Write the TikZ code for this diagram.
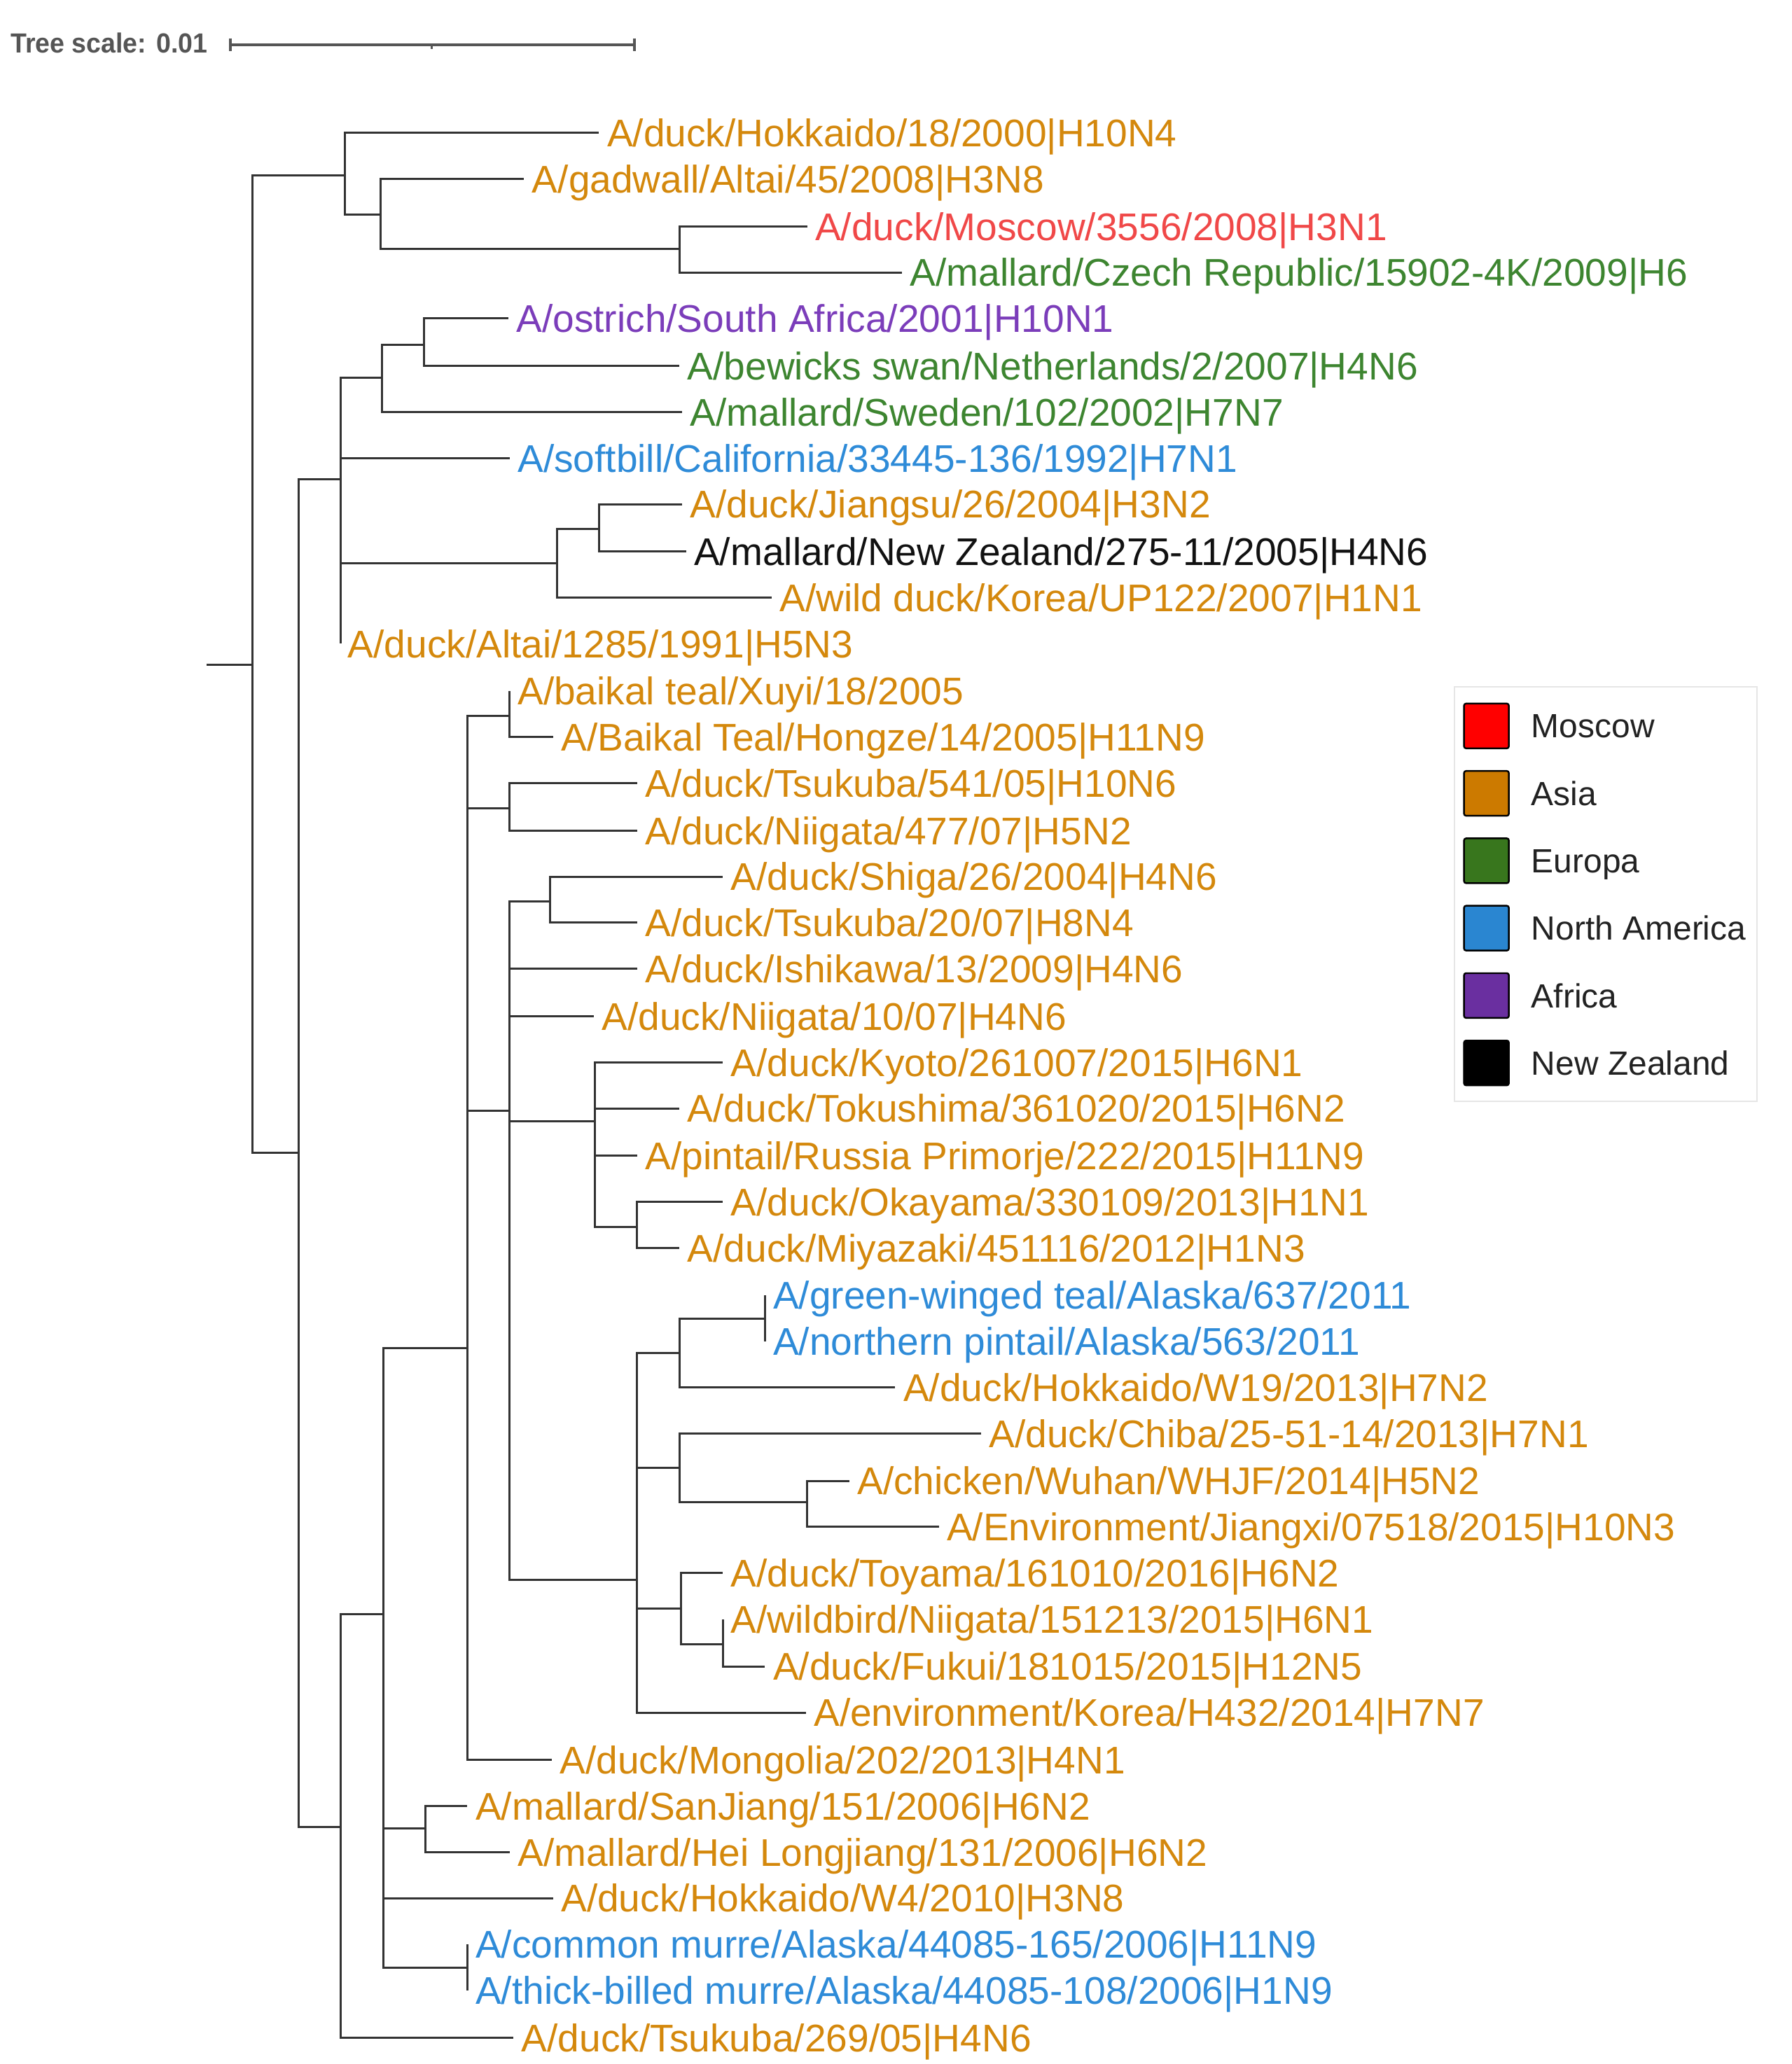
\documentclass[tikz,border=0pt]{standalone}
\usepackage{fontspec}
\setmainfont{Liberation Sans}
\newfontfamily\tsfont{Liberation Sans}[FakeStretch=0.95]
\definecolor{branch}{HTML}{333333}
\definecolor{casia}{HTML}{D4880C}
\definecolor{cmos}{HTML}{F04848}
\definecolor{ceur}{HTML}{3D8530}
\definecolor{cna}{HTML}{2E8BD8}
\definecolor{caf}{HTML}{7B3DBA}
\definecolor{cnz}{HTML}{111111}
\definecolor{swred}{HTML}{FF0000}
\definecolor{swasia}{HTML}{CC7A00}
\definecolor{sweur}{HTML}{38761D}
\definecolor{swna}{HTML}{2A86D1}
\definecolor{swaf}{HTML}{6A2FA0}
\definecolor{scalegray}{HTML}{555555}
\definecolor{legframe}{HTML}{E6E6E6}
\definecolor{legtext}{HTML}{222222}
\begin{document}
\begin{tikzpicture}[x=1pt,y=-1pt,
  br/.style={line width=1.6pt, draw=branch},
  lf/.style={anchor=base west, inner sep=0pt, xshift=6pt, yshift=-10.5pt, font=\fontsize{29.3}{32}\selectfont},
  asia/.style={text=casia}, mos/.style={text=cmos}, eur/.style={text=ceur},
  nam/.style={text=cna}, afr/.style={text=caf}, nz/.style={text=cnz},
  sw/.style={draw=black, line width=1.3pt, minimum width=34pt, minimum height=34pt, inner sep=0pt, rounded corners=1.5pt},
  legtxt/.style={anchor=base west, inner sep=0pt, yshift=-9.1pt, text=legtext, font=\fontsize{25.5}{28}\selectfont},
  scl/.style={line width=2pt, draw=scalegray}]
\useasboundingbox (0,0) rectangle (1361,1568);

% ---- tree scale ----
\node[anchor=base west, inner sep=0pt, text=scalegray, font=\tsfont\bfseries\fontsize{21}{24}\selectfont] (ts) at (8,40) {Tree scale: 0.01};
\coordinate (sb0) at (175,34);
\coordinate (sbm) at (328,34);
\coordinate (sb1) at (482,34);
\draw[scl] (sb0) -- (sb1);
\draw[scl] ([yshift=5pt]sb0) -- ([yshift=-5pt]sb0);
\draw[scl] ([yshift=5pt]sb1) -- ([yshift=-5pt]sb1);
\draw[scl,line width=1.5pt] (sbm) -- ([yshift=-3pt]sbm);

% ---- internal nodes ----
\coordinate (r0) at (157,505);
\coordinate (root) at (192,505);
\coordinate (nA) at (262,133);
\coordinate (nA2) at (289,163);
\coordinate (nA3) at (516,189);
\coordinate (nBC) at (227,876);
\coordinate (nB) at (259,364);
\coordinate (nB1) at (290,287);
\coordinate (nB2) at (322,262);
\coordinate (nB3) at (423,428);
\coordinate (nB4) at (455,402);
\coordinate (nC) at (259,1388);
\coordinate (nC1) at (291,1226);
\coordinate (nD) at (355,1024);
\coordinate (nD1) at (387,544);
\coordinate (nD2) at (387,614);
\coordinate (nE) at (387,844);
\coordinate (nE1) at (418,685);
\coordinate (nE2) at (452,852);
\coordinate (nE3) at (484,932);
\coordinate (nF) at (484,1200);
\coordinate (nF1) at (516,1028);
\coordinate (nF2) at (581,1002);
\coordinate (nF3) at (516,1115);
\coordinate (nF4) at (613,1141);
\coordinate (nF5) at (517,1222);
\coordinate (nF6) at (549,1249);
\coordinate (nG) at (323,1389);
\coordinate (nH) at (355,1495);

% ---- tips ----
\coordinate (t1) at (455,101);
\coordinate (t2) at (398,136);
\coordinate (t3) at (613,172);
\coordinate (t4) at (685,207);
\coordinate (t5) at (386,242);
\coordinate (t6) at (516,278);
\coordinate (t7) at (518,313);
\coordinate (t8) at (387,348);
\coordinate (t9) at (518,383);
\coordinate (t10) at (521,419);
\coordinate (t11) at (586,454);
\coordinate (t12) at (259,489);
\coordinate (t13) at (387,525);
\coordinate (t14) at (420,560);
\coordinate (t15) at (484,595);
\coordinate (t16) at (484,631);
\coordinate (t17) at (549,666);
\coordinate (t18) at (484,701);
\coordinate (t19) at (484,736);
\coordinate (t20) at (451,772);
\coordinate (t21) at (549,807);
\coordinate (t22) at (516,842);
\coordinate (t23) at (484,878);
\coordinate (t24) at (549,913);
\coordinate (t25) at (516,948);
\coordinate (t26) at (581,984);
\coordinate (t27) at (581,1019);
\coordinate (t28) at (680,1054);
\coordinate (t29) at (745,1089);
\coordinate (t30) at (645,1125);
\coordinate (t31) at (713,1160);
\coordinate (t32) at (549,1195);
\coordinate (t33) at (549,1230);
\coordinate (t34) at (581,1266);
\coordinate (t35) at (612,1301);
\coordinate (t36) at (419,1337);
\coordinate (t37) at (355,1372);
\coordinate (t38) at (387,1407);
\coordinate (t39) at (420,1442);
\coordinate (t40) at (355,1477);
\coordinate (t41) at (355,1512);
\coordinate (t42) at (390,1548);

% ---- branches ----
\draw[br] (r0) -- (root);
\draw[br] (root) |- (nA);
\draw[br] (root) |- (nBC);
\draw[br] (nA) |- (t1);
\draw[br] (nA) |- (nA2);
\draw[br] (nA2) |- (t2);
\draw[br] (nA2) |- (nA3);
\draw[br] (nA3) |- (t3);
\draw[br] (nA3) |- (t4);
\draw[br] (nBC) |- (nB);
\draw[br] (nBC) |- (nC);
\draw[br] (nB) |- (nB1);
\draw[br] (nB1) |- (nB2);
\draw[br] (nB2) |- (t5);
\draw[br] (nB2) |- (t6);
\draw[br] (nB1) |- (t7);
\draw[br] (nB) |- (t8);
\draw[br] (nB) |- (nB3);
\draw[br] (nB3) |- (nB4);
\draw[br] (nB4) |- (t9);
\draw[br] (nB4) |- (t10);
\draw[br] (nB3) |- (t11);
\draw[br] (nB) |- (t12);
\draw[br] (nC) |- (nC1);
\draw[br] (nC) |- (t42);
\draw[br] (nC1) |- (nD);
\draw[br] (nC1) |- (nG);
\draw[br] (nC1) |- (t39);
\draw[br] (nC1) |- (nH);
\draw[br] (nG) |- (t37);
\draw[br] (nG) |- (t38);
\draw[br] (nH) |- (t40);
\draw[br] (nH) |- (t41);
\draw[br] (nD) |- (nD1);
\draw[br] (nD) |- (nD2);
\draw[br] (nD) |- (nE);
\draw[br] (nD) |- (t36);
\draw[br] (nD1) |- (t13);
\draw[br] (nD1) |- (t14);
\draw[br] (nD2) |- (t15);
\draw[br] (nD2) |- (t16);
\draw[br] (nE) |- (nE1);
\draw[br] (nE1) |- (t17);
\draw[br] (nE1) |- (t18);
\draw[br] (nE) |- (t19);
\draw[br] (nE) |- (t20);
\draw[br] (nE) |- (nE2);
\draw[br] (nE2) |- (t21);
\draw[br] (nE2) |- (t22);
\draw[br] (nE2) |- (t23);
\draw[br] (nE2) |- (nE3);
\draw[br] (nE3) |- (t24);
\draw[br] (nE3) |- (t25);
\draw[br] (nE) |- (nF);
\draw[br] (nF) |- (nF1);
\draw[br] (nF1) |- (nF2);
\draw[br] (nF2) |- (t26);
\draw[br] (nF2) |- (t27);
\draw[br] (nF1) |- (t28);
\draw[br] (nF) |- (nF3);
\draw[br] (nF3) |- (t29);
\draw[br] (nF3) |- (nF4);
\draw[br] (nF4) |- (t30);
\draw[br] (nF4) |- (t31);
\draw[br] (nF) |- (nF5);
\draw[br] (nF5) |- (t32);
\draw[br] (nF5) |- (nF6);
\draw[br] (nF6) |- (t33);
\draw[br] (nF6) |- (t34);
\draw[br] (nF) |- (t35);

% ---- labels ----
\node[lf,asia] (l1) at (t1) {A/duck/Hokkaido/18/2000|H10N4};
\node[lf,asia] (l2) at (t2) {A/gadwall/Altai/45/2008|H3N8};
\node[lf,mos] (l3) at (t3) {A/duck/Moscow/3556/2008|H3N1};
\node[lf,eur] (l4) at (t4) {A/mallard/Czech Republic/15902-4K/2009|H6};
\node[lf,afr] (l5) at (t5) {A/ostrich/South Africa/2001|H10N1};
\node[lf,eur] (l6) at (t6) {A/bewicks swan/Netherlands/2/2007|H4N6};
\node[lf,eur] (l7) at (t7) {A/mallard/Sweden/102/2002|H7N7};
\node[lf,nam] (l8) at (t8) {A/softbill/California/33445-136/1992|H7N1};
\node[lf,asia] (l9) at (t9) {A/duck/Jiangsu/26/2004|H3N2};
\node[lf,nz] (l10) at (t10) {A/mallard/New Zealand/275-11/2005|H4N6};
\node[lf,asia] (l11) at (t11) {A/wild duck/Korea/UP122/2007|H1N1};
\node[lf,asia,xshift=-1pt] (l12) at (t12) {A/duck/Altai/1285/1991|H5N3};
\node[lf,asia] (l13) at (t13) {A/baikal teal/Xuyi/18/2005};
\node[lf,asia] (l14) at (t14) {A/Baikal Teal/Hongze/14/2005|H11N9};
\node[lf,asia] (l15) at (t15) {A/duck/Tsukuba/541/05|H10N6};
\node[lf,asia] (l16) at (t16) {A/duck/Niigata/477/07|H5N2};
\node[lf,asia] (l17) at (t17) {A/duck/Shiga/26/2004|H4N6};
\node[lf,asia] (l18) at (t18) {A/duck/Tsukuba/20/07|H8N4};
\node[lf,asia] (l19) at (t19) {A/duck/Ishikawa/13/2009|H4N6};
\node[lf,asia] (l20) at (t20) {A/duck/Niigata/10/07|H4N6};
\node[lf,asia] (l21) at (t21) {A/duck/Kyoto/261007/2015|H6N1};
\node[lf,asia] (l22) at (t22) {A/duck/Tokushima/361020/2015|H6N2};
\node[lf,asia] (l23) at (t23) {A/pintail/Russia Primorje/222/2015|H11N9};
\node[lf,asia] (l24) at (t24) {A/duck/Okayama/330109/2013|H1N1};
\node[lf,asia] (l25) at (t25) {A/duck/Miyazaki/451116/2012|H1N3};
\node[lf,nam] (l26) at (t26) {A/green-winged teal/Alaska/637/2011};
\node[lf,nam] (l27) at (t27) {A/northern pintail/Alaska/563/2011};
\node[lf,asia] (l28) at (t28) {A/duck/Hokkaido/W19/2013|H7N2};
\node[lf,asia] (l29) at (t29) {A/duck/Chiba/25-51-14/2013|H7N1};
\node[lf,asia] (l30) at (t30) {A/chicken/Wuhan/WHJF/2014|H5N2};
\node[lf,asia] (l31) at (t31) {A/Environment/Jiangxi/07518/2015|H10N3};
\node[lf,asia] (l32) at (t32) {A/duck/Toyama/161010/2016|H6N2};
\node[lf,asia] (l33) at (t33) {A/wildbird/Niigata/151213/2015|H6N1};
\node[lf,asia] (l34) at (t34) {A/duck/Fukui/181015/2015|H12N5};
\node[lf,asia] (l35) at (t35) {A/environment/Korea/H432/2014|H7N7};
\node[lf,asia] (l36) at (t36) {A/duck/Mongolia/202/2013|H4N1};
\node[lf,asia] (l37) at (t37) {A/mallard/SanJiang/151/2006|H6N2};
\node[lf,asia] (l38) at (t38) {A/mallard/Hei Longjiang/131/2006|H6N2};
\node[lf,asia] (l39) at (t39) {A/duck/Hokkaido/W4/2010|H3N8};
\node[lf,nam] (l40) at (t40) {A/common murre/Alaska/44085-165/2006|H11N9};
\node[lf,nam] (l41) at (t41) {A/thick-billed murre/Alaska/44085-108/2006|H1N9};
\node[lf,asia] (l42) at (t42) {A/duck/Tsukuba/269/05|H4N6};

% ---- legend ----
\node[draw=legframe, line width=1.2pt, minimum width=230pt, minimum height=315pt, inner sep=0pt, anchor=north west] (leg) at (1104,521) {};
\node[sw, fill=swred] (s1) at (1129,551.5) {};
\node[sw, fill=swasia] (s2) at (1129,602.7) {};
\node[sw, fill=sweur] (s3) at (1129,653.9) {};
\node[sw, fill=swna] (s4) at (1129,705.1) {};
\node[sw, fill=swaf] (s5) at (1129,756.3) {};
\node[sw, fill=black] (s6) at (1129,807.5) {};
\node[legtxt] (g1) at (1163,551.5) {Moscow};
\node[legtxt] (g2) at (1163,602.7) {Asia};
\node[legtxt] (g3) at (1163,653.9) {Europa};
\node[legtxt] (g4) at (1163,705.1) {North America};
\node[legtxt] (g5) at (1163,756.3) {Africa};
\node[legtxt] (g6) at (1163,807.5) {New Zealand};
\end{tikzpicture}
\end{document}
